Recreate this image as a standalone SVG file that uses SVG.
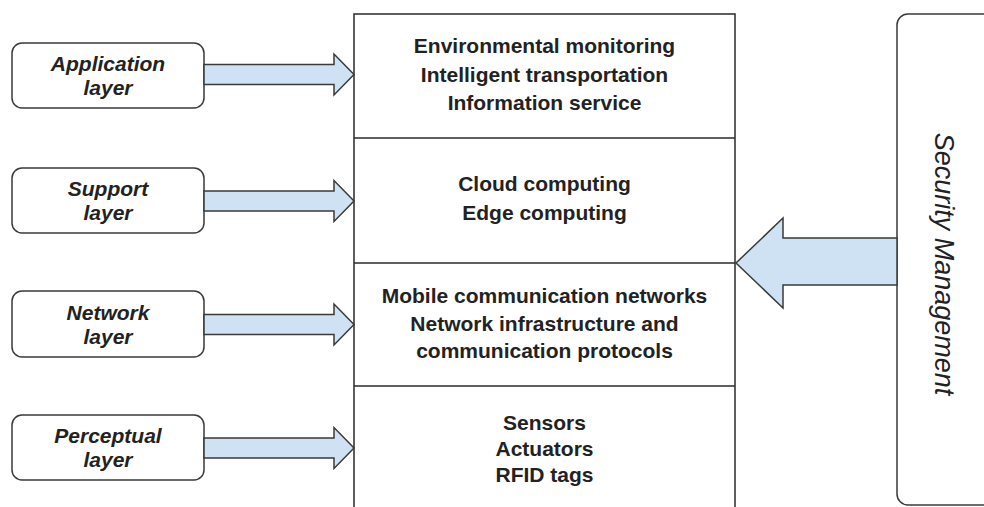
<svg xmlns="http://www.w3.org/2000/svg" width="984" height="507" viewBox="0 0 984 507">
  <style>
    .layer-box { fill: #ffffff; stroke: #3a3a3a; stroke-width: 1.5; }
    .stack { fill: #ffffff; stroke: #2a2a2a; stroke-width: 1.5; }
    .divider { stroke: #2a2a2a; stroke-width: 1.5; }
    .flow { fill: #cfe2f3; stroke: #3a3a3a; stroke-width: 1.5; stroke-linejoin: miter; }
    .label { font-family: "Liberation Sans", Arial, sans-serif; font-size: 21px; font-weight: bold; font-style: italic; fill: #222222; text-anchor: middle; }
    .item { font-family: "Liberation Sans", Arial, sans-serif; font-size: 21px; font-weight: bold; fill: #222222; text-anchor: middle; }
    .side { font-family: "Liberation Sans", Arial, sans-serif; font-size: 27px; font-style: italic; fill: #222222; text-anchor: middle; }
  </style>
  <defs>
    <!-- block arrow from a layer label to the stack, drawn at origin -->
    <path id="layerArrow" d="M0,-10 H130 V-20.5 L150,0 L130,20.5 V10 H0 Z"/>
  </defs>

  <rect width="984" height="507" fill="#ffffff"/>

  <!-- central layer stack -->
  <g id="stack">
    <rect class="stack" x="354" y="14" width="381" height="510"/>
    <line class="divider" x1="354" y1="138" x2="735" y2="138"/>
    <line class="divider" x1="354" y1="263" x2="735" y2="263"/>
    <line class="divider" x1="354" y1="386" x2="735" y2="386"/>
  </g>

  <g id="application-content">
    <text class="item" x="544.5" y="53">Environmental monitoring</text>
    <text class="item" x="544.5" y="81.5">Intelligent transportation</text>
    <text class="item" x="544.5" y="110">Information service</text>
  </g>

  <g id="support-content">
    <text class="item" x="544.5" y="191">Cloud computing</text>
    <text class="item" x="544.5" y="220">Edge computing</text>
  </g>

  <g id="network-content">
    <text class="item" x="544.5" y="303">Mobile communication networks</text>
    <text class="item" x="544.5" y="331">Network infrastructure and</text>
    <text class="item" x="544.5" y="358">communication protocols</text>
  </g>

  <g id="perceptual-content">
    <text class="item" x="544.5" y="430">Sensors</text>
    <text class="item" x="544.5" y="456">Actuators</text>
    <text class="item" x="544.5" y="482">RFID tags</text>
  </g>

  <!-- layer labels -->
  <g id="application-layer">
    <rect class="layer-box" x="12" y="43" width="192" height="65" rx="10"/>
    <text class="label" x="108" y="71">Application</text>
    <text class="label" x="108" y="95">layer</text>
  </g>

  <g id="support-layer">
    <rect class="layer-box" x="12" y="168" width="192" height="65" rx="10"/>
    <text class="label" x="108" y="196">Support</text>
    <text class="label" x="108" y="220">layer</text>
  </g>

  <g id="network-layer">
    <rect class="layer-box" x="12" y="291" width="192" height="66" rx="10"/>
    <text class="label" x="108" y="320">Network</text>
    <text class="label" x="108" y="344">layer</text>
  </g>

  <g id="perceptual-layer">
    <rect class="layer-box" x="12" y="415" width="192" height="65" rx="10"/>
    <text class="label" x="108" y="443">Perceptual</text>
    <text class="label" x="108" y="467">layer</text>
  </g>

  <!-- security management column -->
  <g id="security-management">
    <rect class="layer-box" x="897" y="14" width="130" height="491" rx="11"/>
    <text class="side" transform="translate(935,264) rotate(90)">Security Management</text>
  </g>

  <!-- connectors -->
  <g id="connectors">
    <use href="#layerArrow" class="flow" transform="translate(204,74.5)"/>
    <use href="#layerArrow" class="flow" transform="translate(204,201)"/>
    <use href="#layerArrow" class="flow" transform="translate(204,324.5)"/>
    <use href="#layerArrow" class="flow" transform="translate(204,448)"/>
    <path class="flow" d="M897,238 H783 V218 L736,263 L783,308 V285 H897 Z"/>
  </g>
</svg>
